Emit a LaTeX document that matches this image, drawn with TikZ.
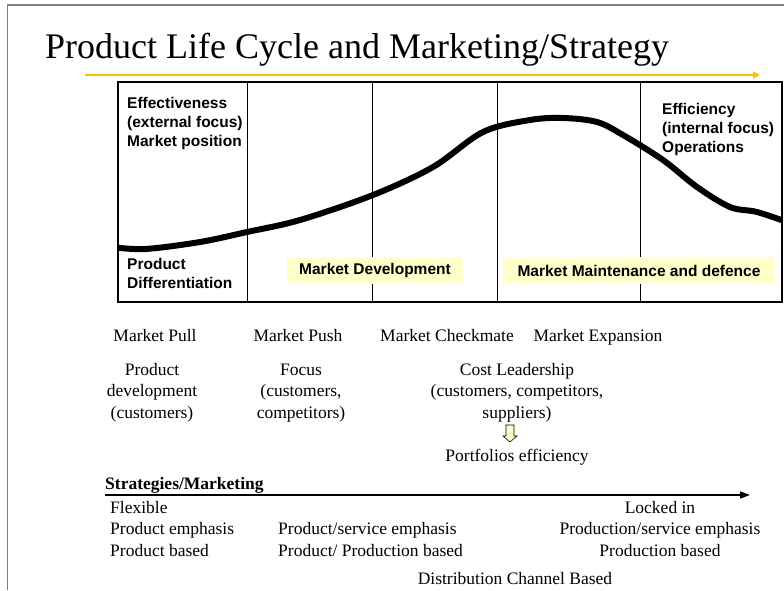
\documentclass[tikz,border=0pt]{standalone}
\usepackage{fontspec}
\setmainfont{Liberation Serif}
\setsansfont{Liberation Sans}
\usetikzlibrary{arrows.meta, positioning}
\definecolor{oro}{HTML}{FFC000}
\definecolor{amarillo_claro}{HTML}{FFFFCC}
\definecolor{gris_marco}{HTML}{808080}

\begin{document}
\begin{tikzpicture}[
	x=1pt, y=-1pt,
	every node/.style={inner sep=0pt},
	% --- Estilos ---
	titulo/.style={font=\fontsize{36}{40}\selectfont, anchor=base west},
	etiqueta/.style={font=\fontsize{15.5}{19}\selectfont\sffamily\bfseries, align=left, anchor=base west},
	resaltado/.style={fill=amarillo_claro, minimum height=27pt, font=\fontsize{15.5}{19}\selectfont\sffamily\bfseries},
	texto/.style={font=\fontsize{17.5}{21.5}\selectfont, align=center, anchor=base},
	texto_izq/.style={font=\fontsize{17.5}{21.5}\selectfont, align=left, anchor=base west},
	curva/.style={line width=6pt, line cap=round},
	flecha_oro/.style={-{Triangle[length=7pt, width=7pt]}, draw=oro, line width=2pt},
	flecha_eje/.style={-{Triangle[length=10pt, width=7pt]}, line width=1.5pt}
	]
	\useasboundingbox (0,0) rectangle (784,590);
	% marco de la diapositiva
	\draw[gris_marco, line width=1.5pt] (7.5,590) -- (7.5,5) -- (784,5);
	
	% 1. Titulo y flecha amarilla
	\node[titulo] (titulo) at (45,58) {Product Life Cycle and Marketing/Strategy};
	\coordinate (oro_ini) at (85,75);
	\coordinate (oro_fin) at (760,75);
	\draw[flecha_oro] (oro_ini) -- (oro_fin);
	
	% 2. Cuadro de etapas
	\coordinate (esq_so) at (118,82);
	\coordinate (esq_ie) at (782,302);
	\foreach \x in {247,372,497,640}
		\draw[line width=0.8pt] (\x,82) -- (\x,302);
	\begin{scope}
		\clip (esq_so) rectangle (esq_ie);
		\draw[curva] plot[smooth, tension=0.55] coordinates {
			(112,247) (145,249) (200,242) (247,232) (300,220) (373,195)
			(433,167) (483,132) (530,120) (563,118) (597,122) (623,135)
			(663,160) (697,187) (730,207) (757,212) (790,223)};
	\end{scope}
	\draw[line width=2.5pt] (esq_so) rectangle (esq_ie);
	
	% 3. Textos dentro del cuadro (base = ultima linea)
	\node[etiqueta] (efectividad) at (127,146.5) {Effectiveness\\(external focus)\\Market position};
	\node[etiqueta] (eficiencia) at (662,152.5) {Efficiency\\(internal focus)\\Operations};
	\node[etiqueta] (diferenciacion) at (127,288.5) {Product\\Differentiation};
	\node[resaltado, minimum width=176pt] (desarrollo) at (375,270.5) {Market Development};
	\node[resaltado, minimum width=272pt] (mantenimiento) at (639,270.5) {Market Maintenance and defence};
	
	% 4. Etapas de mercado
	\node[texto] (pull) at (155,341) {Market Pull};
	\node[texto] (push) at (298,341) {Market Push};
	\node[texto] (jaque) at (447,341) {Market Checkmate};
	\node[texto] (expansion) at (598,341) {Market Expansion};
	
	\node[texto] (desarrollo_prod) at (152,418) {Product\\development\\(customers)};
	\node[texto] (enfoque) at (301,418) {Focus\\(customers,\\competitors)};
	\node[texto] (costo) at (517,418) {Cost Leadership\\(customers, competitors,\\suppliers)};
	% flecha hueca hacia abajo
	\coordinate (bajada) at (510,425);
	\draw[fill=amarillo_claro, line width=0.6pt] (bajada) ++(-4,0) -- ++(8,0) -- ++(0,11)
		-- ++(3,0) -- ++(-7,6) -- ++(-7,-6) -- ++(3,0) -- cycle;
	\node[texto] (carteras) at (517,461) {Portfolios efficiency};
	
	% 5. Eje de estrategias
	\node[texto_izq, font=\fontsize{17.5}{21.5}\selectfont\bfseries] (estrategias) at (105,489) {Strategies/Marketing};
	\coordinate (eje_ini) at (105,495);
	\coordinate (eje_fin) at (750,495);
	\draw[flecha_eje] (eje_ini) -- (eje_fin);
	
	\node[texto_izq] (flexible) at (110,556) {Flexible\\Product emphasis\\Product based};
	\node[texto_izq] (mixto) at (278,556) {Product/service emphasis\\Product/ Production based};
	\node[texto] (bloqueado) at (660,556) {Locked in\\Production/service emphasis\\Production based};
	\node[texto] (distribucion) at (515,584) {Distribution Channel Based};
\end{tikzpicture}
\end{document}
